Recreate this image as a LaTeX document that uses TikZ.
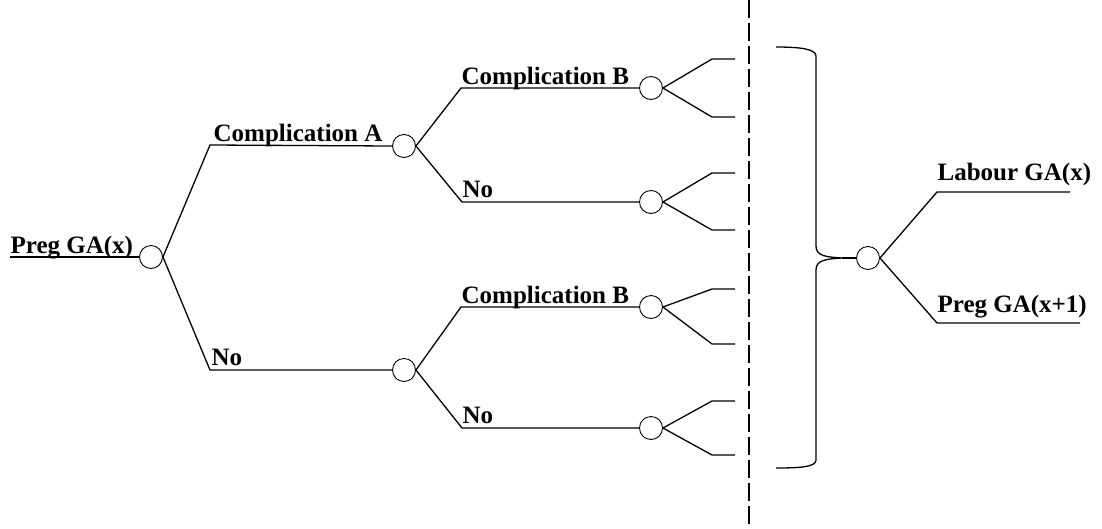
\documentclass[tikz,border=0pt]{standalone}
\usepackage{fontspec}
\setmainfont{Liberation Serif}
\begin{document}
\begin{tikzpicture}[x=1pt,y=-1pt,line width=1.3pt,
  chance/.style={circle,draw,line width=0.9pt,minimum size=23pt,inner sep=0pt},
  lbl/.style={anchor=base west,inner sep=0pt,font=\fontsize{25}{30}\selectfont\bfseries},
  divider/.style={line width=1.6pt,dash pattern=on 18pt off 5pt}]
\useasboundingbox (0,0) rectangle (1102,528);

% chance nodes
\node[chance] (c0)  at (151,257) {};
\node[chance] (cA)  at (404,146) {};
\node[chance] (cN)  at (404,370) {};
\node[chance] (cAB) at (651,88)  {};
\node[chance] (cAN) at (651,202) {};
\node[chance] (cNB) at (651,307) {};
\node[chance] (cNN) at (651,428) {};
\node[chance] (cL)  at (868,258) {};

% labels
\node[lbl] (tP)  at (10,253)  {Preg GA(x)};
\node[lbl] (tA)  at (213,141) {Complication A};
\node[lbl] (tN)  at (211,365) {No};
\node[lbl] (tAB) at (461,84)  {Complication B};
\node[lbl] (tAN) at (462,197) {No};
\node[lbl] (tNB) at (461,303) {Complication B};
\node[lbl] (tNN) at (462,423) {No};
\node[lbl] (tLab) at (937,180) {Labour GA(x)};
\node[lbl] (tPr)  at (937,312) {Preg GA(x+1)};

% root
\coordinate (rootL) at (10,257);
\draw (rootL) -- (c0.west);
\draw (c0.east) -- (210,145) -- (cA.west);
\draw (c0.east) -- (210,370) -- (cN.west);

% second level
\draw (cA.east) -- (461,88)  -- (cAB.west);
\draw (cA.east) -- (462,202) -- (cAN.west);
\draw (cN.east) -- (461,307) -- (cNB.west);
\draw (cN.east) -- (462,428) -- (cNN.west);

% forks
\coordinate (f1) at (735,59);  \coordinate (f2) at (735,117);
\coordinate (f3) at (735,173); \coordinate (f4) at (735,230);
\coordinate (f5) at (735,289); \coordinate (f6) at (735,344);
\coordinate (f7) at (735,401); \coordinate (f8) at (735,455);
\draw (cAB.east) -- (712,59)  -- (f1);
\draw (cAB.east) -- (712,117) -- (f2);
\draw (cAN.east) -- (712,173) -- (f3);
\draw (cAN.east) -- (712,230) -- (f4);
\draw (cNB.east) -- (712,289) -- (f5);
\draw (cNB.east) -- (712,344) -- (f6);
\draw (cNN.east) -- (712,401) -- (f7);
\draw (cNN.east) -- (712,455) -- (f8);

% dashed divider
\coordinate (dtop) at (749,0);
\coordinate (dbot) at (749,528);
\draw[divider] (dtop) -- (dbot);

% brace
\coordinate (btop) at (776,47);
\coordinate (bbot) at (776,468);
\coordinate (tip) at (842,258);
\draw (btop) .. controls (800,47) and (816,49) .. (816,56)
  -- (816,246) .. controls (816,256) and (826,257) .. (tip)
  .. controls (826,259) and (816,260) .. (816,270)
  -- (816,460) .. controls (816,467) and (800,468) .. (bbot);
\draw (tip) -- (cL.west);

% final branches
\coordinate (eL) at (1070,192);
\coordinate (eP) at (1080,323);
\draw (cL.east) -- (937,192) -- (eL);
\draw (cL.east) -- (937,323) -- (eP);
\end{tikzpicture}
\end{document}
